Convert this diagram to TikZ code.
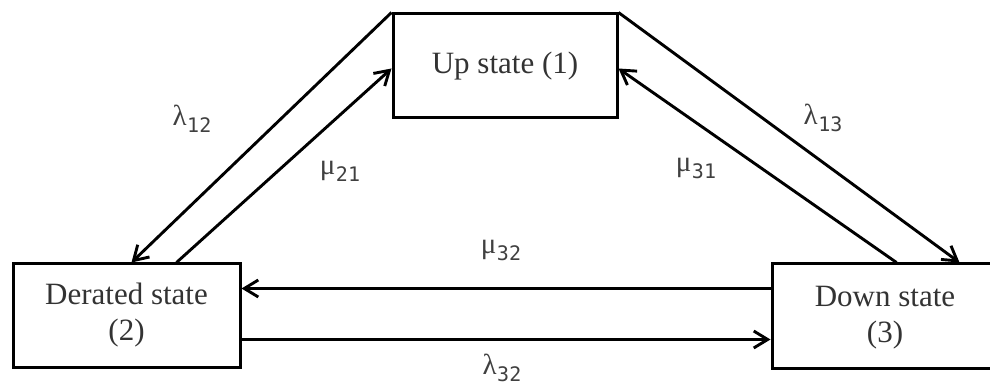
\documentclass[tikz,border=0pt]{standalone}
\usepackage{fontspec}
\setmainfont{Liberation Serif}
\newfontfamily\subfont{DejaVu Sans Mono}
\usetikzlibrary{arrows.meta,calc}
\tikzset{
  statebox/.style={draw, line width=3pt, rectangle, inner sep=0pt, align=center,
    font=\fontsize{31}{36}\selectfont, text=black!80},
  flow/.style={line width=2.9pt, -{Straight Barb[length=14pt,width=17pt,line width=2.9pt]}},
  rate/.style={font=\fontsize{29}{32}\selectfont, text=black!75, inner sep=0pt}
}
% rate symbol with a typewriter-style subscript
\newcommand{\rt}[2]{#1\hspace{0.5pt}\raisebox{-7pt}{\subfont\fontsize{20}{22}\selectfont #2}}
\begin{document}
\begin{tikzpicture}[x=1pt,y=-1pt]
  \useasboundingbox (0,0) rectangle (990,387);
  \clip (0,0) rectangle (990,387);
  % states
  \node[statebox, minimum width=224pt, minimum height=104pt] (up) at (505,66) {Up state (1)};
  \node[statebox, minimum width=227pt, minimum height=103pt] (der) at (126.5,315.5) {Derated state\\(2)};
  \node[statebox, minimum width=240pt, minimum height=104pt] (down) at (892,316) {};
  \node[font=\fontsize{31}{36}\selectfont, text=black!80, align=center] (downtxt) at (885,318) {Down state\\(3)};
  % attachment points on the boxes
  \coordinate (derA) at ($(der.north west)+(120,0)$);
  \coordinate (derB) at ($(der.north west)+(165,0)$);
  \coordinate (upL) at ($(up.north west)+(0,56)$);
  \coordinate (upR) at ($(up.north east)+(0,56)$);
  \coordinate (downA) at ($(down.north west)+(126,0)$);
  \coordinate (downB) at ($(down.north west)+(189,0)$);
  \coordinate (derR1) at ($(der.north east)+(0,26)$);
  \coordinate (derR2) at ($(der.north east)+(0,77)$);
  % transitions
  \draw[flow] (up.north west) -- (derA);
  \draw[flow] (derB) -- (upL);
  \draw[flow] (up.north east) -- (downB);
  \draw[flow] (downA) -- (upR);
  \draw[flow] (derR1 -| down.west) -- (derR1);
  \draw[flow] (derR2) -- (derR2 -| down.west);
  % rates
  \node[rate] (l12) at (192,119) {\rt{λ}{12}};
  \node[rate] (m21) at (340,171) {\rt{μ}{21}};
  \node[rate] (l13) at (823,118) {\rt{λ}{13}};
  \node[rate] (m31) at (696,168) {\rt{μ}{31}};
  \node[rate] (m32) at (501,250) {\rt{μ}{32}};
  \node[rate] (l32) at (502,368) {\rt{λ}{32}};
\end{tikzpicture}
\end{document}
